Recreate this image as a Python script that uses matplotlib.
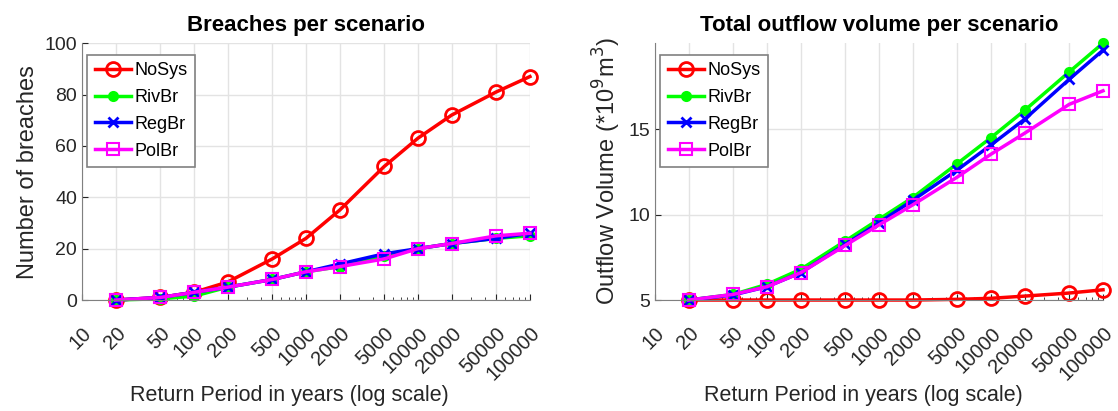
import numpy as np
import matplotlib
matplotlib.use("Agg")
import matplotlib.pyplot as plt
import matplotlib.transforms as mtransforms
from matplotlib.ticker import FixedLocator, LogLocator, NullFormatter

plt.rcParams['font.family'] = ['Liberation Sans', 'DejaVu Sans']

# return periods (years)
periods = [20, 50, 100, 200, 500, 1000, 2000, 5000, 10000, 20000, 50000, 100000]
tick_vals = [10] + periods
tick_labels = [str(t) for t in tick_vals]

scenarios = ['NoSys', 'RivBr', 'RegBr', 'PolBr']

# number of breaches
breaches_nosys = [0, 1, 3, 7, 16, 24, 35, 52, 63, 72, 81, 87]
breaches_rivbr = [0, 0.5, 1.5, 5, 8, 11, 13, 17, 20, 22, 24, 25]
breaches_regbr = [0, 1, 3, 5, 8, 11, 14, 18, 20, 22, 24, 26]
breaches_polbr = [0, 1, 3, 5, 8, 11, 13, 16, 20, 22, 25, 26]

# total outflow volume (*10^9 m^3)
volume_nosys = [5.0, 5.0, 5.0, 5.0, 5.0, 5.0, 5.0, 5.04, 5.1, 5.23, 5.41, 5.6]
volume_rivbr = [5.0, 5.33, 5.92, 6.8, 8.46, 9.73, 11.0, 12.99, 14.51, 16.11, 18.36, 20.04]
volume_regbr = [5.0, 5.3, 5.78, 6.6, 8.26, 9.53, 10.84, 12.62, 14.08, 15.59, 17.93, 19.63]
volume_polbr = [5.0, 5.33, 5.78, 6.6, 8.2, 9.4, 10.57, 12.2, 13.54, 14.77, 16.46, 17.25]

styles = {
    'NoSys': dict(color='#ff0000', marker='o', mfc='none', ms=10, mew=2),
    'RivBr': dict(color='#00ff00', marker='o', mfc='#00ff00', ms=6, mew=2),
    'RegBr': dict(color='#0000ff', marker='x', ms=7, mew=2),
    'PolBr': dict(color='#ff00ff', marker='s', mfc='none', ms=8, mew=1.5),
}

fig = plt.figure(figsize=(11.18, 4.11), dpi=100)
ax1 = fig.add_axes([0.0733, 0.27, 0.4007, 0.625])
ax2 = fig.add_axes([0.5859, 0.27, 0.4007, 0.625])

shift = mtransforms.ScaledTranslation(0.04, 0, fig.dpi_scale_trans)

def setup(ax, series, title, ylabel, ylim, yticks):
    for name, vals in zip(scenarios, series):
        ax.plot(periods, vals, lw=2.5, label=name, clip_on=False, **styles[name])
    ax.set_xscale('log')
    ax.set_xlim(10, 100000)
    ax.set_ylim(*ylim)
    ax.set_yticks(yticks)
    ax.xaxis.set_major_locator(FixedLocator(tick_vals))
    ax.set_xticklabels(tick_labels, rotation=45, ha='right', rotation_mode='anchor')
    for lab in ax.get_xticklabels():
        lab.set_transform(lab.get_transform() + shift)
    ax.xaxis.set_minor_locator(LogLocator(base=10, subs=np.arange(2, 10)))
    ax.xaxis.set_minor_formatter(NullFormatter())
    ax.tick_params(which='both', direction='in', colors='#262626', labelsize=14)
    ax.tick_params(axis='x', labelsize=14.5, pad=17)
    ax.tick_params(which='major', length=4)
    ax.tick_params(which='minor', length=2.5)
    for s in ['top', 'right']:
        ax.spines[s].set_visible(False)
    for s in ['left', 'bottom']:
        ax.spines[s].set_color('#808080')
    ax.grid(True, which='major', color='#e3e3e3', lw=1)
    ax.set_axisbelow(True)
    ax.set_title(title, fontsize=16, fontweight='bold', pad=9)
    ax.set_ylabel(ylabel, fontsize=17, color='#262626')
    ax.set_xlabel('Return Period in years (log scale)', fontsize=15.5, color='#262626')
    ax.xaxis.set_label_coords(0.464, -0.33)
    leg = ax.legend(loc='upper left', fontsize=13, fancybox=False, framealpha=1,
                    edgecolor='#808080', handlelength=2.0, handletextpad=0.2,
                    borderpad=0.4, labelspacing=0.55, borderaxespad=0.0,
                    bbox_to_anchor=(0.012, 0.955))
    leg.get_frame().set_linewidth(1.2)

setup(ax1, [breaches_nosys, breaches_rivbr, breaches_regbr, breaches_polbr],
      'Breaches per scenario', 'Number of breaches', (0, 100), [0, 20, 40, 60, 80, 100])
setup(ax2, [volume_nosys, volume_rivbr, volume_regbr, volume_polbr],
      'Total outflow volume per scenario', r'Outflow Volume (*10$^9$m$^3$)', (5, 20.04), [5, 10, 15])

fig.savefig('out.png', dpi=100)
